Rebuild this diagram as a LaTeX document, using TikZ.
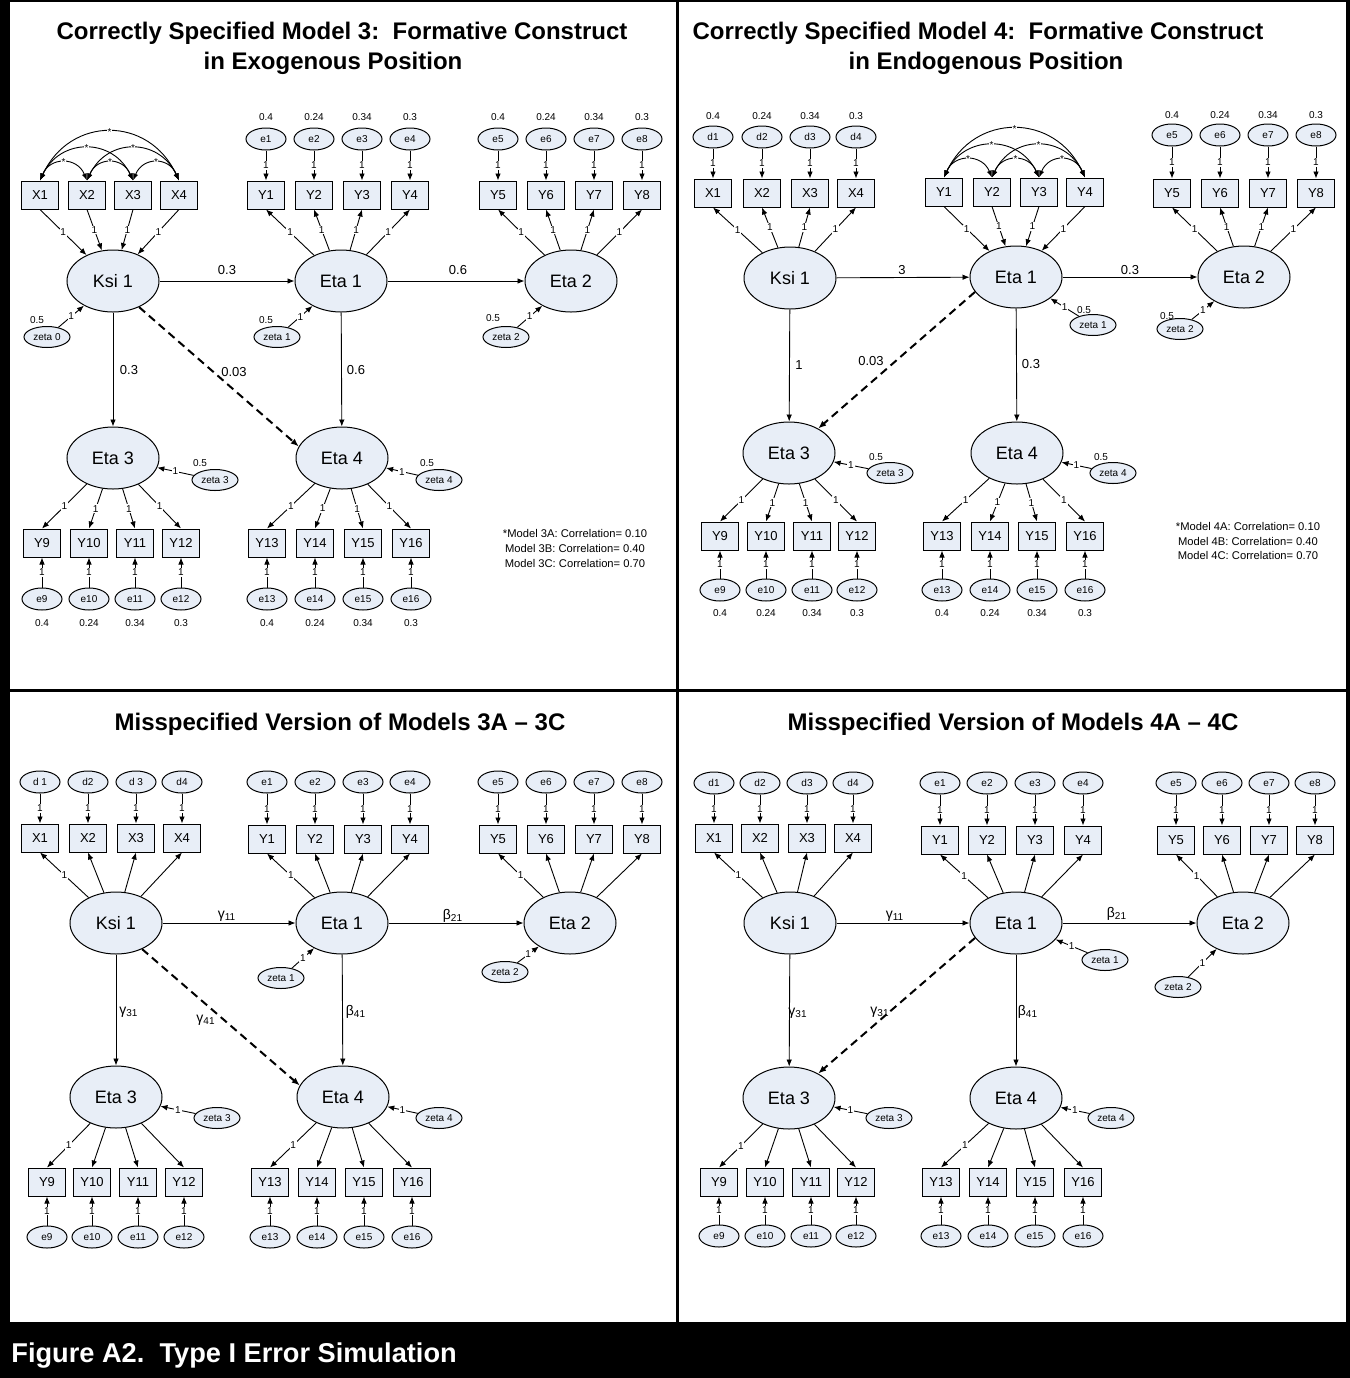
\documentclass[tikz,border=0pt]{standalone}
\usepackage{fontspec}
\setmainfont{Liberation Sans}
\usetikzlibrary{arrows.meta,shapes.geometric}
\definecolor{fillc}{RGB}{232,238,247}
\begin{document}
\begin{tikzpicture}[x=0.5pt,y=-0.5pt,
  lat/.style={ellipse,draw,fill=fillc,line width=0.5pt,minimum width=46pt,minimum height=31pt,inner sep=0pt,font=\fontsize{9}{10}\selectfont},
  obs/.style={rectangle,draw,fill=fillc,line width=0.5pt,minimum width=18.5pt,minimum height=14pt,inner sep=0pt,font=\fontsize{6.5}{7}\selectfont},
  err/.style={ellipse,draw,fill=fillc,line width=0.5pt,minimum width=20pt,minimum height=11pt,inner sep=0pt,font=\fontsize{5}{6}\selectfont},
  zet/.style={ellipse,draw,fill=fillc,line width=0.5pt,minimum width=23pt,minimum height=10.5pt,inner sep=0pt,font=\fontsize{5}{6}\selectfont},
  val/.style={inner sep=0pt,font=\fontsize{5}{6}\selectfont},
  one/.style={fill=white,inner sep=0.4pt,font=\fontsize{5}{6}\selectfont},
  star/.style={fill=white,inner sep=0.2pt,font=\fontsize{5}{6}\selectfont},
  coef/.style={inner sep=0.5pt,font=\fontsize{6.5}{7}\selectfont},
  grk/.style={inner sep=0.5pt,font=\fontsize{7}{8}\selectfont},
  note/.style={inner sep=0pt,font=\fontsize{5.6}{6.5}\selectfont},
  ttl/.style={inner sep=0pt,font=\fontsize{12}{14}\selectfont\bfseries},
  arr/.style={-{Latex[length=3.5pt,width=2.8pt]},line width=0.45pt},
  darr/.style={-{Latex[length=4pt,width=3.2pt]},line width=1pt,dash pattern=on 4pt off 2.5pt},
  cov/.style={{Latex[length=3.5pt,width=2.6pt]}-{Latex[length=3.5pt,width=2.6pt]},line width=0.45pt}]
\useasboundingbox (0,0) rectangle (1350,1378);
\fill[white] (0,0) rectangle (1350,1378);
% frame
\fill[black] (0,0) rectangle (10,1378);
\fill[black] (0,0) rectangle (1350,2);
\fill[black] (1346,0) rectangle (1350,1378);
\fill[black] (676,0) rectangle (679,1322);
\fill[black] (0,689) rectangle (1350,692);
\fill[black] (0,1322) rectangle (1350,1378);
\node[anchor=west,inner sep=0pt,text=white,font=\fontsize{13.6}{15}\selectfont\bfseries] (cap) at (11,1356) {Figure A2.\ \ Type I Error Simulation};

%%%%%%%%%%%%%%%% PANEL A (top-left)
\node[ttl] (Atitle1) at (342,33) {Correctly Specified Model 3:\ \ Formative Construct};
\node[ttl] (Atitle2) at (333,63) {in Exogenous Position};
\node[lat] (AKsi) at (113,281) {Ksi 1};
\node[lat] (AEta1) at (341,281) {Eta 1};
\node[lat] (AEta2) at (571,281) {Eta 2};
\node[lat] (AEta3) at (113,458) {Eta 3};
\node[lat] (AEta4) at (342,458) {Eta 4};
\foreach \i/\x/\v in {1/266/0.4,2/314/0.24,3/362/0.34,4/410/0.3}{
  \node[err] (Ae\i) at (\x,139) {e\i};
  \node[val] at (\x,117) {\v};
  \node[obs] (AY\i) at (\x,195) {Y\i};
  \draw[arr] (Ae\i) -- node[one]{1} (AY\i);
  \draw[arr] (AEta1) -- node[one]{1} (AY\i.south);
}
\foreach \i/\x/\v in {5/498/0.4,6/546/0.24,7/594/0.34,8/642/0.3}{
  \node[err] (Ae\i) at (\x,139) {e\i};
  \node[val] at (\x,117) {\v};
  \node[obs] (AY\i) at (\x,195) {Y\i};
  \draw[arr] (Ae\i) -- node[one]{1} (AY\i);
  \draw[arr] (AEta2) -- node[one]{1} (AY\i.south);
}
\foreach \i/\x in {1/40,2/87,3/133,4/179}{
  \node[obs] (AX\i) at (\x,195) {X\i};
  \draw[arr] (AX\i.south) -- node[one]{1} (AKsi);
}
\foreach \a/\b/\ha/\da in {1/2/24/10,2/3/24/10,3/4/24/10,1/3/43/20,2/4/43/20,1/4/65/30}
  \draw[cov] (AX\a.north) .. controls +(\da,-\ha) and +(-\da,-\ha) .. node[star]{*} (AX\b.north);
\foreach \i/\x/\v in {9/42/0.4,10/89/0.24,11/135/0.34,12/181/0.3}{
  \node[obs] (AY\i) at (\x,543) {Y\i};
  \node[err] (Ae\i) at (\x,599) {e\i};
  \node[val] at (\x,623) {\v};
  \draw[arr] (Ae\i) -- node[one]{1} (AY\i);
  \draw[arr] (AEta3) -- node[one]{1} (AY\i.north);
}
\foreach \i/\x/\v in {13/267/0.4,14/315/0.24,15/363/0.34,16/411/0.3}{
  \node[obs] (AY\i) at (\x,543) {Y\i};
  \node[err] (Ae\i) at (\x,599) {e\i};
  \node[val] at (\x,623) {\v};
  \draw[arr] (Ae\i) -- node[one]{1} (AY\i);
  \draw[arr] (AEta4) -- node[one]{1} (AY\i.north);
}
\node[zet] (Az0) at (47,337) {zeta 0}; \node[val] at (37,320) {0.5};
\node[zet] (Az1) at (277,337) {zeta 1}; \node[val] at (266,320) {0.5};
\node[zet] (Az2) at (506,337) {zeta 2}; \node[val] at (493,318) {0.5};
\node[zet] (Az3) at (215,480) {zeta 3}; \node[val] at (200,463) {0.5};
\node[zet] (Az4) at (439,480) {zeta 4}; \node[val] at (427,463) {0.5};
\draw[arr] (Az0) -- node[one]{1} (AKsi);
\draw[arr] (Az1) -- node[one]{1} (AEta1);
\draw[arr] (Az2) -- node[one]{1} (AEta2);
\draw[arr] (Az3) -- node[one]{1} (AEta3);
\draw[arr] (Az4) -- node[one]{1} (AEta4);
\draw[arr] (AKsi) -- (AEta1);  \node[coef] at (227,270) {0.3};
\draw[arr] (AEta1) -- (AEta2); \node[coef] at (458,270) {0.6};
\draw[arr] (AKsi) -- (AEta3);  \node[coef] at (129,370) {0.3};
\draw[darr] (AKsi.-45) -- (AEta4.165); \node[coef] at (234,372) {0.03};
\draw[arr] (AEta1) -- (AEta4); \node[coef] at (356,370) {0.6};
\node[note] at (575,533) {*Model 3A: Correlation= 0.10};
\node[note] at (575,548) {Model 3B: Correlation= 0.40};
\node[note] at (575,563) {Model 3C: Correlation= 0.70};

%%%%%%%%%%%%%%%% PANEL B (top-right)
\node[ttl] (Btitle1) at (978,33) {Correctly Specified Model 4:\ \ Formative Construct};
\node[ttl] (Btitle2) at (986,63) {in Endogenous Position};
\node[lat] (BKsi) at (790,278) {Ksi 1};
\node[lat] (BEta1) at (1016,277) {Eta 1};
\node[lat] (BEta2) at (1244,277) {Eta 2};
\node[lat] (BEta3) at (789,453) {Eta 3};
\node[lat] (BEta4) at (1017,453) {Eta 4};
\foreach \i/\x/\v in {1/713/0.4,2/762/0.24,3/810/0.34,4/856/0.3}{
  \node[err] (Bd\i) at (\x,137) {d\i};
  \node[val] at (\x,116) {\v};
  \node[obs] (BX\i) at (\x,193) {X\i};
  \draw[arr] (Bd\i) -- node[one]{1} (BX\i);
  \draw[arr] (BKsi) -- node[one]{1} (BX\i.south);
}
\foreach \i/\x in {1/944,2/992,3/1039,4/1085}{
  \node[obs] (BY\i) at (\x,192) {Y\i};
  \draw[arr] (BY\i.south) -- node[one]{1} (BEta1);
}
\foreach \a/\b/\ha/\da in {1/2/24/10,2/3/24/10,3/4/24/10,1/3/43/20,2/4/43/20,1/4/65/30}
  \draw[cov] (BY\a.north) .. controls +(\da,-\ha) and +(-\da,-\ha) .. node[star]{*} (BY\b.north);
\foreach \i/\x/\v in {5/1172/0.4,6/1220/0.24,7/1268/0.34,8/1316/0.3}{
  \node[err] (Be\i) at (\x,135) {e\i};
  \node[val] at (\x,115) {\v};
  \node[obs] (BY\i) at (\x,193) {Y\i};
  \draw[arr] (Be\i) -- node[one]{1} (BY\i);
  \draw[arr] (BEta2) -- node[one]{1} (BY\i.south);
}
\foreach \i/\x/\v in {9/720/0.4,10/766/0.24,11/812/0.34,12/857/0.3}{
  \node[obs] (BY\i) at (\x,536) {Y\i};
  \node[err] (Be\i) at (\x,590) {e\i};
  \node[val] at (\x,613) {\v};
  \draw[arr] (Be\i) -- node[one]{1} (BY\i);
  \draw[arr] (BEta3) -- node[one]{1} (BY\i.north);
}
\foreach \i/\x/\v in {13/942/0.4,14/990/0.24,15/1037/0.34,16/1085/0.3}{
  \node[obs] (BY\i) at (\x,536) {Y\i};
  \node[err] (Be\i) at (\x,590) {e\i};
  \node[val] at (\x,613) {\v};
  \draw[arr] (Be\i) -- node[one]{1} (BY\i);
  \draw[arr] (BEta4) -- node[one]{1} (BY\i.north);
}
\node[zet] (Bz1) at (1093,325) {zeta 1}; \node[val] at (1084,310) {0.5};
\node[zet] (Bz2) at (1180,329) {zeta 2}; \node[val] at (1167,316) {0.5};
\node[zet] (Bz3) at (890,473) {zeta 3}; \node[val] at (876,457) {0.5};
\node[zet] (Bz4) at (1113,473) {zeta 4}; \node[val] at (1101,457) {0.5};
\draw[arr] (Bz1) -- node[one]{1} (BEta1);
\draw[arr] (Bz2) -- node[one]{1} (BEta2);
\draw[arr] (Bz3) -- node[one]{1} (BEta3);
\draw[arr] (Bz4) -- node[one]{1} (BEta4);
\draw[arr] (BKsi) -- (BEta1);  \node[coef] at (902,270) {3};
\draw[arr] (BEta1) -- (BEta2); \node[coef] at (1130,270) {0.3};
\draw[arr] (BKsi) -- (BEta3);  \node[coef] at (799,365) {1};
\draw[darr] (BEta1.200) -- (BEta3.40); \node[coef] at (871,361) {0.03};
\draw[arr] (BEta1) -- (BEta4); \node[coef] at (1031,364) {0.3};
\node[note] at (1248,526) {*Model 4A: Correlation= 0.10};
\node[note] at (1248,541) {Model 4B: Correlation= 0.40};
\node[note] at (1248,555) {Model 4C: Correlation= 0.70};

%%%%%%%%%%%%%%%% PANEL C (bottom-left)
\node[ttl] (Ctitle) at (340,724) {Misspecified Version of Models 3A – 3C};
\node[lat] (CKsi) at (116,923) {Ksi 1};
\node[lat] (CEta1) at (342,923) {Eta 1};
\node[lat] (CEta2) at (570,923) {Eta 2};
\node[lat] (CEta3) at (116,1097) {Eta 3};
\node[lat] (CEta4) at (343,1097) {Eta 4};
\foreach \i/\n/\x in {1/d 1/40,2/d2/88,3/d 3/136,4/d4/182}{
  \node[err] (Cd\i) at (\x,782) {\n};
  \node[obs] (CX\i) at (\x,838) {X\i};
  \draw[arr] (Cd\i) -- node[one]{1} (CX\i);
}
\foreach \i/\x in {1/267,2/315,3/363,4/410}{
  \node[err] (Ce\i) at (\x,782) {e\i};
  \node[obs] (CY\i) at (\x,839) {Y\i};
  \draw[arr] (Ce\i) -- node[one]{1} (CY\i);
}
\foreach \i/\x in {5/498,6/546,7/594,8/642}{
  \node[err] (Ce\i) at (\x,782) {e\i};
  \node[obs] (CY\i) at (\x,839) {Y\i};
  \draw[arr] (Ce\i) -- node[one]{1} (CY\i);
}
\foreach \i/\x in {9/47,10/92,11/138,12/184,13/270,14/317,15/364,16/412}{
  \node[obs] (CY\i) at (\x,1182) {Y\i};
  \node[err] (Ce\i) at (\x,1237) {e\i};
  \draw[arr] (Ce\i) -- node[one]{1} (CY\i);
}
\draw[arr] (CKsi) -- node[one]{1} (CX1.south);
\foreach \i in {2,3,4} \draw[arr] (CKsi) -- (CX\i.south);
\draw[arr] (CEta1) -- node[one]{1} (CY1.south);
\foreach \i in {2,3,4} \draw[arr] (CEta1) -- (CY\i.south);
\draw[arr] (CEta2) -- node[one]{1} (CY5.south);
\foreach \i in {6,7,8} \draw[arr] (CEta2) -- (CY\i.south);
\draw[arr] (CEta3) -- node[one]{1} (CY9.north);
\foreach \i in {10,11,12} \draw[arr] (CEta3) -- (CY\i.north);
\draw[arr] (CEta4) -- node[one]{1} (CY13.north);
\foreach \i in {14,15,16} \draw[arr] (CEta4) -- (CY\i.north);
\node[zet] (Cz1) at (281,978) {zeta 1};
\node[zet] (Cz2) at (505,972) {zeta 2};
\node[zet] (Cz3) at (217,1118) {zeta 3};
\node[zet] (Cz4) at (439,1118) {zeta 4};
\draw[arr] (Cz1) -- node[one]{1} (CEta1);
\draw[arr] (Cz2) -- node[one]{1} (CEta2);
\draw[arr] (Cz3) -- node[one]{1} (CEta3);
\draw[arr] (Cz4) -- node[one]{1} (CEta4);
\draw[arr] (CKsi) -- (CEta1);  \node[grk] at (227,916) {γ\textsubscript{11}};
\draw[arr] (CEta1) -- (CEta2); \node[grk] at (453,916) {β\textsubscript{21}};
\draw[arr] (CKsi) -- (CEta3);  \node[grk] at (129,1012) {γ\textsubscript{31}};
\draw[darr] (CKsi.-45) -- (CEta4.165); \node[grk] at (206,1020) {γ\textsubscript{41}};
\draw[arr] (CEta1) -- (CEta4); \node[grk] at (356,1012) {β\textsubscript{41}};

%%%%%%%%%%%%%%%% PANEL D (bottom-right)
\node[ttl] (Dtitle) at (1013,724) {Misspecified Version of Models 4A – 4C};
\node[lat] (DKsi) at (790,923) {Ksi 1};
\node[lat] (DEta1) at (1016,923) {Eta 1};
\node[lat] (DEta2) at (1243,923) {Eta 2};
\node[lat] (DEta3) at (789,1098) {Eta 3};
\node[lat] (DEta4) at (1016,1098) {Eta 4};
\foreach \i/\x in {1/714,2/760,3/807,4/853}{
  \node[err] (Dd\i) at (\x,783) {d\i};
  \node[obs] (DX\i) at (\x,838) {X\i};
  \draw[arr] (Dd\i) -- node[one]{1} (DX\i);
}
\foreach \i/\x in {1/940,2/987,3/1035,4/1083,5/1176,6/1222,7/1269,8/1315}{
  \node[err] (De\i) at (\x,783) {e\i};
  \node[obs] (DY\i) at (\x,840) {Y\i};
  \draw[arr] (De\i) -- node[one]{1} (DY\i);
}
\foreach \i/\x in {9/719,10/765,11/811,12/856,13/941,14/988,15/1035,16/1083}{
  \node[obs] (DY\i) at (\x,1182) {Y\i};
  \node[err] (De\i) at (\x,1236) {e\i};
  \draw[arr] (De\i) -- node[one]{1} (DY\i);
}
\draw[arr] (DKsi) -- node[one]{1} (DX1.south);
\foreach \i in {2,3,4} \draw[arr] (DKsi) -- (DX\i.south);
\draw[arr] (DEta1) -- node[one]{1} (DY1.south);
\foreach \i in {2,3,4} \draw[arr] (DEta1) -- (DY\i.south);
\draw[arr] (DEta2) -- node[one]{1} (DY5.south);
\foreach \i in {6,7,8} \draw[arr] (DEta2) -- (DY\i.south);
\draw[arr] (DEta3) -- node[one]{1} (DY9.north);
\foreach \i in {10,11,12} \draw[arr] (DEta3) -- (DY\i.north);
\draw[arr] (DEta4) -- node[one]{1} (DY13.north);
\foreach \i in {14,15,16} \draw[arr] (DEta4) -- (DY\i.north);
\node[zet] (Dz1) at (1105,960) {zeta 1};
\node[zet] (Dz2) at (1178,987) {zeta 2};
\node[zet] (Dz3) at (889,1118) {zeta 3};
\node[zet] (Dz4) at (1111,1118) {zeta 4};
\draw[arr] (Dz1) -- node[one]{1} (DEta1);
\draw[arr] (Dz2) -- node[one]{1} (DEta2);
\draw[arr] (Dz3) -- node[one]{1} (DEta3);
\draw[arr] (Dz4) -- node[one]{1} (DEta4);
\draw[arr] (DKsi) -- (DEta1);  \node[grk] at (895,916) {γ\textsubscript{11}};
\draw[arr] (DEta1) -- (DEta2); \node[grk] at (1117,914) {β\textsubscript{21}};
\draw[arr] (DKsi) -- (DEta3);  \node[grk] at (798,1013) {γ\textsubscript{31}};
\draw[darr] (DEta1.200) -- (DEta3.40); \node[grk] at (880,1012) {γ\textsubscript{31}};
\draw[arr] (DEta1) -- (DEta4); \node[grk] at (1028,1012) {β\textsubscript{41}};
\end{tikzpicture}
\end{document}
